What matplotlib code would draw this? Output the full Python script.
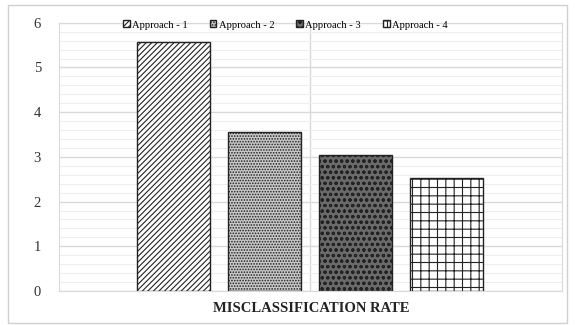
import matplotlib.pyplot as plt
from matplotlib.patches import Rectangle
from matplotlib.ticker import MultipleLocator

# Werte
ansaetze = ['Approach - 1', 'Approach - 2', 'Approach - 3', 'Approach - 4']
fehlerrate = [5.56, 3.55, 3.05, 2.53]
kategorie = 'MISCLASSIFICATION RATE'

muster = ['//////', '......', 'ooo', '++']
fuellung = ['white', '#c8c8c8', '#6a6a6a', 'white']

plt.rcParams['font.family'] = ['Liberation Serif', 'DejaVu Serif']
plt.rcParams['hatch.linewidth'] = 0.8

fig = plt.figure(figsize=(5.75, 3.25), dpi=100)
ax = fig.add_axes([0.1026, 0.1046, 0.8744, 0.8254])

breite = 0.145
schritt = 0.181
for i, (name, wert) in enumerate(zip(ansaetze, fehlerrate)):
    x = (i - 1.5) * schritt
    ax.bar(x, wert, width=breite, color=fuellung[i], edgecolor='#222222',
           hatch=muster[i], linewidth=1.0, label=name, zorder=3)

ax.set_xlim(-0.5, 0.5)
ax.set_ylim(0, 6)
ax.yaxis.set_major_locator(MultipleLocator(1))
ax.yaxis.set_minor_locator(MultipleLocator(0.2))
ax.set_xticks([0])
ax.set_xticklabels([])
ax.grid(which='major', axis='both', color='#d9d9d9', linewidth=1.0, zorder=0)
ax.grid(which='minor', axis='y', color='#eeeeee', linewidth=0.8, zorder=0)
ax.tick_params(axis='both', which='both', length=0)
ax.tick_params(axis='y', labelsize=10.5, pad=13, labelcolor='#333333')
for s in ax.spines.values():
    s.set_color('#d9d9d9')

fig.text(0.541, 0.052, kategorie, ha='center', va='center',
         fontsize=10.5, fontweight='bold', color='#222222')

fig.legend(loc='center', bbox_to_anchor=(0.496, 0.923), ncol=4, frameon=False,
           fontsize=7.6, handlelength=0.65, handleheight=0.65, handletextpad=0.2,
           columnspacing=2.1, borderpad=0)

fig.patches.append(Rectangle((8 / 575, 2 / 325), 559 / 575, 318 / 325,
                             transform=fig.transFigure, fill=False,
                             edgecolor='#d0d0d0', linewidth=1.0))

fig.savefig('out.png', dpi=100)
